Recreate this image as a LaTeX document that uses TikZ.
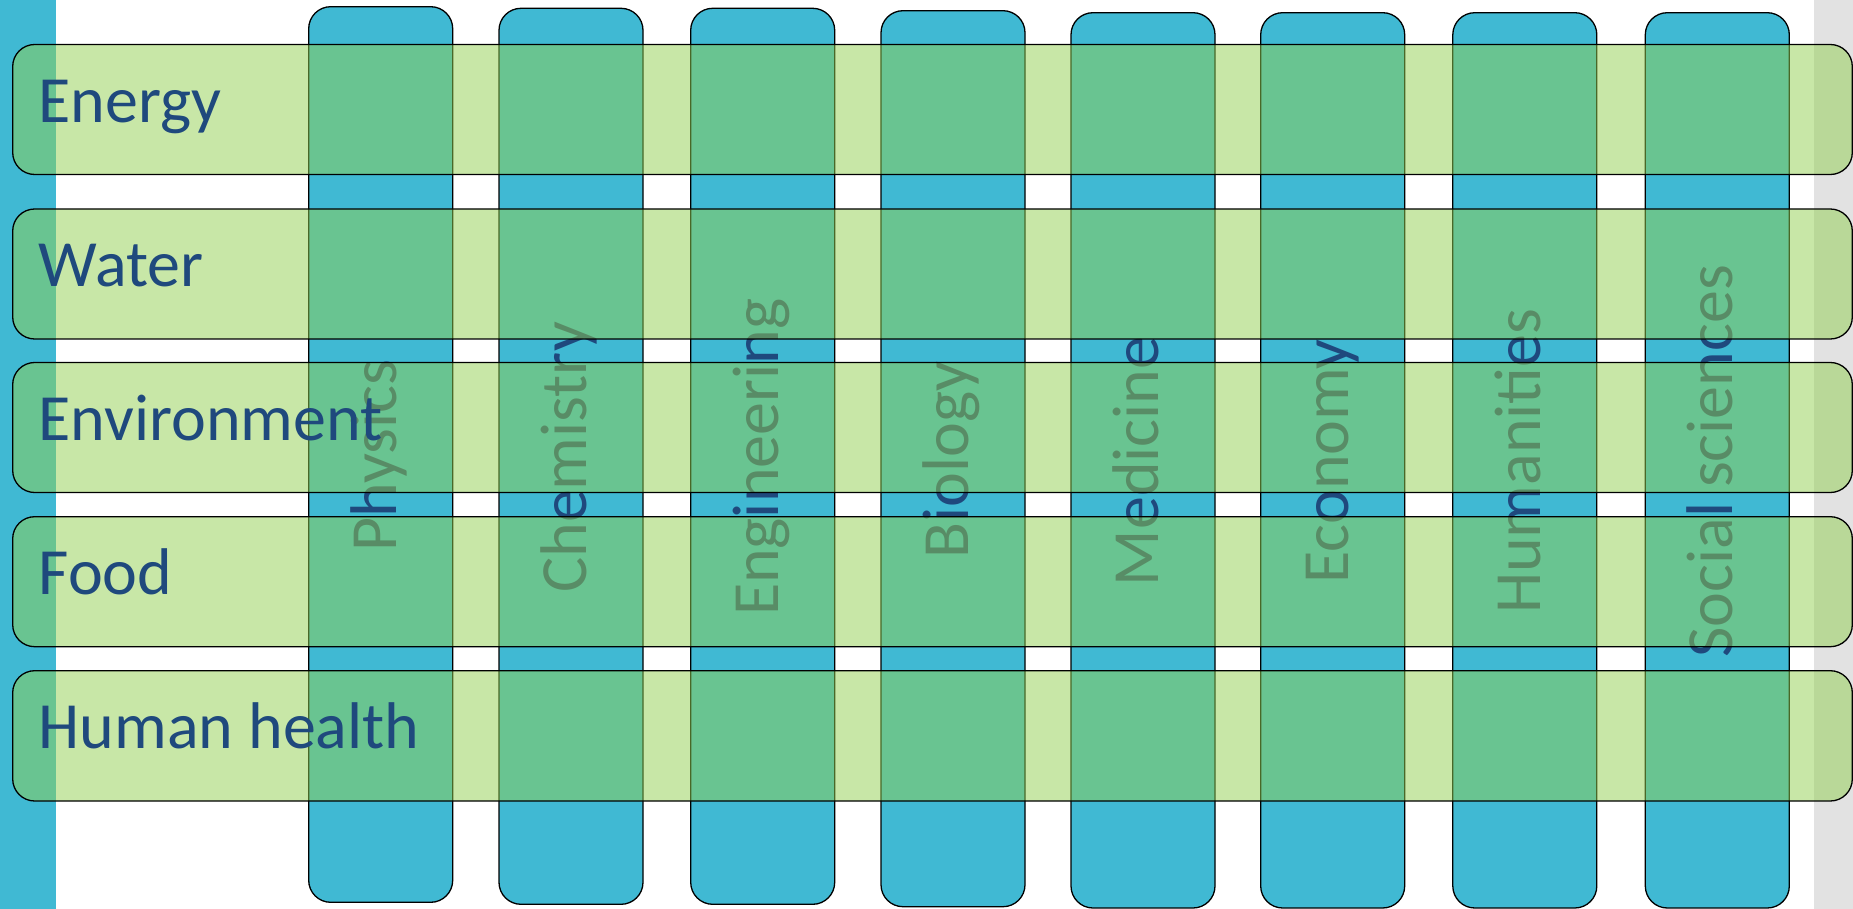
\documentclass[tikz,border=0pt]{standalone}
\usepackage{fontspec}
\setmainfont{Carlito}
\definecolor{colblue}{RGB}{64,185,211}
\definecolor{rowgreen}{RGB}{146,208,80}
\definecolor{txtblue}{RGB}{31,73,125}
\definecolor{edgegray}{RGB}{226,226,226}
\newcommand{\lblfont}{\fontsize{66}{70}\selectfont}
\tikzset{
	discipline/.style={draw=black, line width=1.3pt, fill=colblue, rounded corners=22pt},
	challenge/.style={draw=black, line width=1.3pt, fill=rowgreen, fill opacity=0.5, rounded corners=22pt},
	collabel/.style={rotate=90, anchor=base, inner sep=0pt, text=txtblue, font=\lblfont},
	rowlabel/.style={anchor=base west, inner sep=0pt, text=txtblue, font=\lblfont}
}

\begin{document}
\begin{tikzpicture}[x=1pt, y=-1pt]
		\useasboundingbox (0,0) rectangle (1853,909);
		\fill[colblue] (0,0) rectangle (55.7,909);
		\fill[edgegray] (1813.7,0) rectangle (1853,909);
		%%%%%%% disciplines
		\draw[discipline] (308.7,6.7) rectangle (452.7,902.3);
		\node(phys)[collabel] at (396,455.5) {Physics};
		\draw[discipline] (499,8.3) rectangle (643,904.3);
		\node(chem)[collabel] at (586.3,457.3) {Chemistry};
		\draw[discipline] (690.7,8.3) rectangle (834.7,904.3);
		\node(eng)[collabel] at (778,457.3) {Engineering};
		\draw[discipline] (881,10.7) rectangle (1025,906.7);
		\node(bio)[collabel] at (968.3,459.7) {Biology};
		\draw[discipline] (1071,12.7) rectangle (1215,908);
		\node(med)[collabel] at (1158.3,461.3) {Medicine};
		\draw[discipline] (1260.7,12.7) rectangle (1404.7,908);
		\node(econ)[collabel] at (1348,461.3) {Economy};
		\draw[discipline] (1452.8,12.7) rectangle (1596.8,908);
		\node(hum)[collabel] at (1540.1,461.3) {Humanities};
		\draw[discipline] (1645.3,12.7) rectangle (1789.3,908);
		\node(soc)[collabel] at (1732.6,461.3) {Social sciences};
		%%%%%%% challenges
		\draw[challenge] (12.7,44.5) rectangle (1852.3,174.5);
		\node(energy)[rowlabel] at (38.5,122.2) {Energy};
		\draw[challenge] (12.7,209) rectangle (1852.3,339);
		\node(water)[rowlabel] at (38.5,286.7) {Water};
		\draw[challenge] (12.7,362.5) rectangle (1852.3,492.5);
		\node(env)[rowlabel] at (38.5,440.2) {Environment};
		\draw[challenge] (12.7,516.7) rectangle (1852.3,646.7);
		\node(food)[rowlabel] at (38.5,594.4) {Food};
		\draw[challenge] (12.7,670.7) rectangle (1852.3,801);
		\node(health)[rowlabel] at (38.5,748.4) {Human health};
\end{tikzpicture}
\end{document}
